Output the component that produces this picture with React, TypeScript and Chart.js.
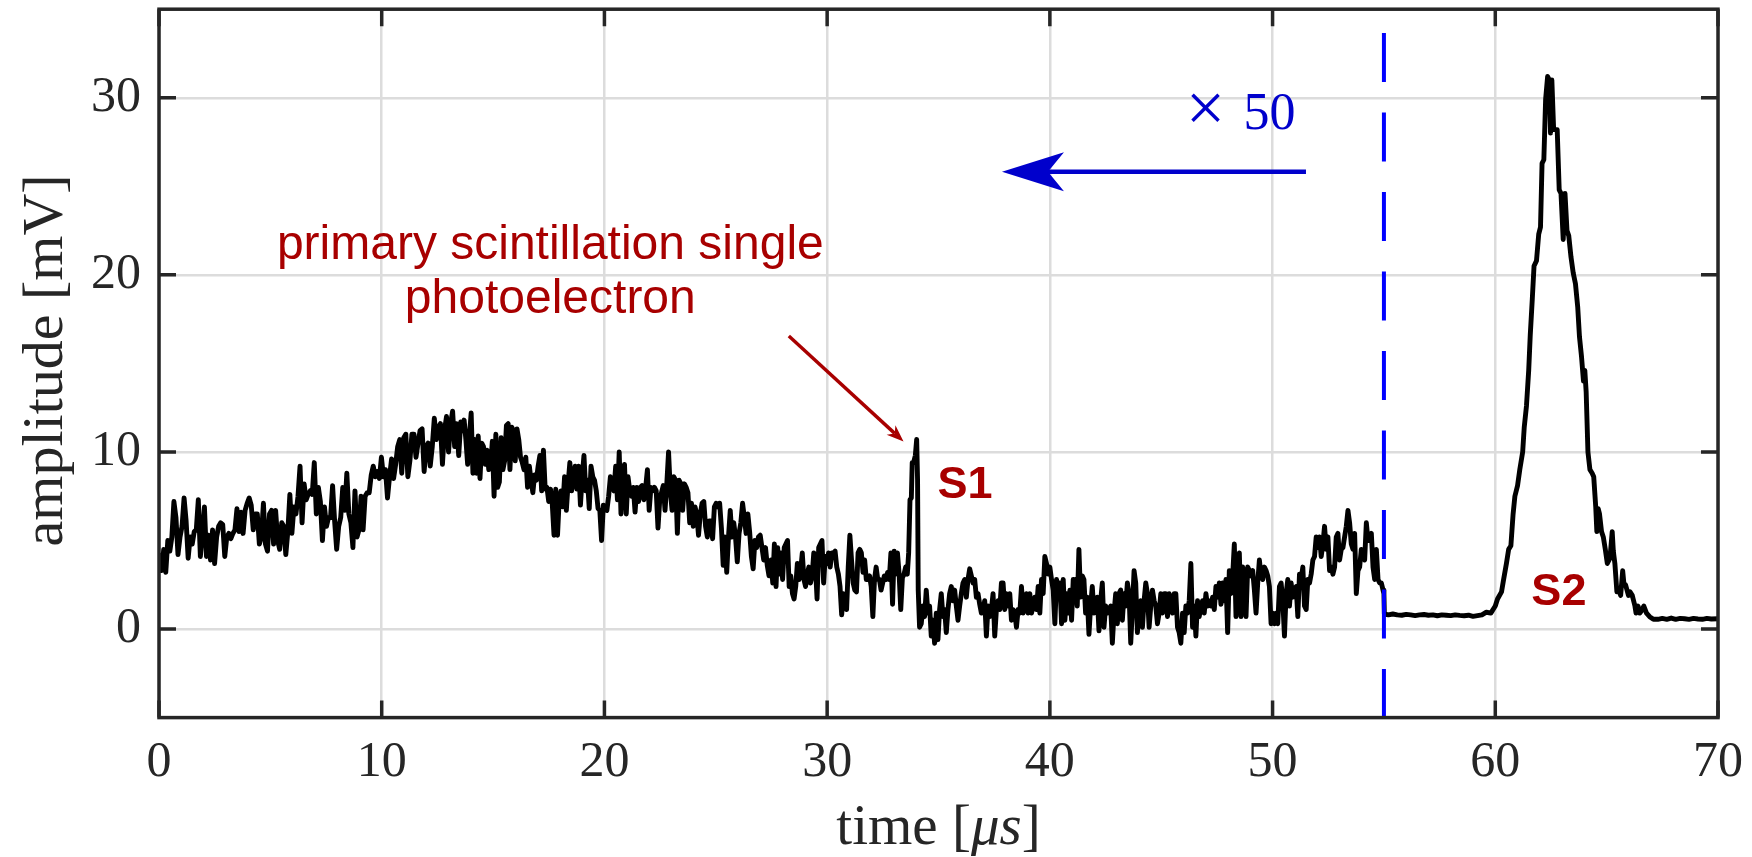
import React, { useEffect, useRef } from "react";
import { Chart, registerables } from "chart.js";

Chart.register(...registerables);

// ---------- axis ticks ----------
const X_TICKS = [0, 10, 20, 30, 40, 50, 60, 70];
const Y_TICKS = [0, 10, 20, 30];

// ---------- waveform (µs, mV) ----------
// Noisy part, sampled on an even grid inside each [start, end] range
const SEG_A_RANGE = [0.03, 13.64];
const SEG_A = [
  4.3, 3.3, 4.5, 3.2, 5.0, 4.4, 5.2, 7.2, 6.3, 4.2,
  5.2, 5.8, 7.4, 6.1, 4.0, 5.2, 4.8, 5.5, 5.6, 7.3,
  4.1, 5.4, 6.9, 4.1, 5.3, 3.9, 5.6, 3.7, 5.2, 5.8,
  6.0, 5.9, 4.1, 5.2, 5.4, 5.1, 5.4, 5.6, 6.8, 5.5,
  6.6, 5.4, 6.7, 7.1, 7.4, 7.0, 5.6, 6.5, 6.5, 4.8,
  5.2, 7.1, 4.8, 4.4, 6.5, 6.7, 4.8, 6.7, 5.0, 4.5,
  6.0, 5.8, 4.2, 5.5, 7.6, 5.4, 6.9, 6.5, 7.5, 9.2,
  6.0, 8.2, 7.3, 7.6, 7.8, 7.6, 9.4, 6.5, 8.0, 7.2,
  5.0, 6.9, 5.8, 6.3, 6.3, 8.1, 6.1, 4.5, 5.8, 6.3,
  8.0, 6.7, 8.8, 6.5, 6.0, 4.6, 7.8, 5.2, 5.6, 7.5,
  5.6, 7.5, 7.7, 7.7, 8.7, 9.2, 8.6, 8.9, 8.5, 9.7,
  8.6, 9.0, 7.4, 8.6, 9.6, 8.5, 9.3, 10.3, 10.7, 8.8,
  10.8, 11.0, 8.6, 9.5, 11.0, 11.0, 9.7, 10.5, 11.2, 11.3,
  8.9, 10.3, 10.5, 9.2, 10.3, 11.9, 10.7, 11.4, 11.6, 9.3,
  11.2, 12.0, 10.0, 11.6, 12.3, 10.3, 11.6, 9.8, 11.7, 11.2,
];

const SEG_B_RANGE = [13.7, 27.39];
const SEG_B = [
  11.8, 10.7, 9.3, 10.9, 12.2, 8.8, 10.7, 8.8, 10.9, 8.5,
  10.5, 10.3, 9.3, 10.1, 9.0, 9.2, 10.6, 7.5, 11.0, 8.0,
  8.3, 10.8, 9.0, 9.5, 11.5, 11.6, 9.0, 11.4, 11.2, 9.5,
  11.3, 10.7, 9.7, 9.4, 9.0, 9.7, 8.0, 9.2, 8.4, 7.7,
  8.7, 8.4, 9.2, 9.8, 7.8, 10.1, 7.9, 8.0, 7.2, 7.9,
  7.1, 5.3, 7.9, 5.3, 7.4, 7.8, 6.9, 8.6, 6.7, 8.2,
  9.4, 7.8, 8.6, 9.2, 7.9, 9.2, 7.0, 8.6, 9.8, 7.8,
  8.4, 6.8, 9.2, 8.6, 8.4, 7.8, 6.8, 6.7, 5.0, 7.0,
  6.8, 6.7, 7.5, 8.6, 8.4, 7.8, 9.2, 7.3, 10.0, 6.5,
  8.4, 9.3, 6.5, 8.6, 7.8, 7.5, 8.0, 6.6, 8.0, 7.2,
  8.0, 8.1, 7.3, 8.0, 9.0, 6.7, 8.0, 7.8, 8.0, 7.8,
  5.7, 7.3, 7.7, 8.1, 6.7, 8.2, 10.0, 7.8, 6.7, 8.6,
  8.4, 5.4, 8.4, 8.2, 6.7, 8.2, 8.0, 7.7, 6.0, 7.1,
  5.8, 6.9, 6.5, 5.3, 6.5, 7.1, 7.2, 5.8, 5.2, 6.1,
  6.1, 5.1, 6.9, 7.1, 6.9, 7.1, 5.7, 3.6, 5.2, 3.2,
  5.2, 6.7, 5.2, 6.0, 5.2, 3.8, 5.4, 6.0, 7.1, 6.3,
  5.4, 6.5, 5.5, 4.1, 3.4, 5.0, 4.6, 5.2, 5.3, 4.6,
  3.9, 4.6, 3.6, 3.0,
];

const SEG_C1_RANGE = [27.41, 33.6];
const SEG_C1 = [
  3.5, 3.9, 2.6, 4.8, 2.4, 4.6, 3.1, 4.3, 2.8, 4.6,
  4.8, 5.0, 2.4, 3.0, 2.0, 1.7, 2.4, 3.7, 2.8, 3.3,
  4.3, 2.8, 2.4, 3.1, 3.5, 2.6, 3.0, 4.3, 3.6, 1.7,
  4.6, 4.8, 5.0, 2.6, 4.1, 3.7, 4.3, 3.5, 4.3, 4.3,
  4.4, 3.5, 3.1, 2.4, 0.8, 2.0, 1.8, 1.1, 3.5, 5.3,
  3.9, 2.6, 2.2, 2.1, 4.3, 4.5, 4.3, 3.2, 3.9, 2.8,
  2.8, 3.0, 2.4, 0.7, 2.8, 3.5, 2.8, 2.8, 2.2, 2.6,
  3.0, 2.8, 3.2, 2.8, 4.3, 1.4, 4.4, 3.1, 4.3, 3.1,
  1.1, 2.9, 3.1, 3.5, 3.1,
];

// S1 pulse
const S1_TIME = [33.66, 33.72, 33.78, 33.82, 33.88, 33.96, 34.02, 34.06, 34.09];
const S1_AMP = [4.3, 7.3, 7.4, 9.4, 9.4, 9.8, 10.7, 8.4, 2.2];

const SEG_C2_RANGE = [34.15, 41.05];
const SEG_C2 = [
  0.1, 0.3, 1.3, 0.7, 2.2, 0.9, 1.3, -0.4, 0.5, -0.8,
  0.9, -0.6, 1.1, 2.0, 0.7, 1.1, -0.2, 1.1, 2.0, 2.4,
  1.6, 2.2, 1.3, 0.5, 1.3, 2.0, 2.6, 2.8, 1.8, 2.8,
  3.4, 3.0, 2.6, 2.8, 1.8, 2.0, 1.4, 0.9, 1.1, 1.6,
  -0.4, 1.3, 0.7, 1.1, 2.0, -0.4, 1.1, 1.6, 1.1, 2.6,
  2.6, 1.1, 2.0, 1.3, 2.0, 0.5, 1.1, 0.9, 0.1, 1.1,
  0.9, 2.4, 0.9, 1.3, 2.0, 0.9, 2.0, 0.9, 1.3, 1.8,
  1.1, 2.4, 0.9, 2.8, 2.0, 4.1, 3.7, 3.1, 3.5, 2.8,
  2.2, 0.3, 2.8, 2.0, 2.6, 0.3, 2.8, 0.5, 2.0, 0.9,
  2.2, 0.5, 2.8,
];

const SEG_D_RANGE = [41.08, 54.96];
const SEG_D = [
  2.0, 2.8, 1.3, 4.5, 1.8, 3.0, 2.8, 0.9, 1.8, -0.3,
  1.3, 2.4, 0.9, 1.3, 1.8, -0.1, 1.6, 2.6, 0.1, 1.3,
  0.9, 1.1, 1.3, -0.8, 0.9, 2.0, 0.3, 2.0, 2.2, 0.5,
  2.0, 1.3, 2.6, 2.0, -0.8, 1.1, 3.3, 2.6, -0.2, 1.3,
  1.6, 0.1, 1.6, 2.6, 2.0, 0.1, 1.3, 2.2, 1.6, 1.3,
  0.3, 0.9, 2.0, 0.9, 2.0, 2.0, 0.7, 2.0, 1.3, 0.9,
  2.0, 2.0, 0.1, -0.2, -0.8, 0.9, -0.2, 1.3, 0.9, 1.6,
  3.7, 0.1, 1.3, -0.4, 1.6, 0.7, 1.3, 1.6, 0.9, 2.0,
  1.3, 1.6, 1.3, 1.8, 1.1, 2.4, 1.8, 2.6, 1.4, 2.6,
  1.6, 2.8, -0.2, 3.3, 2.0, 3.0, 4.8, 0.7, 3.3, 4.3,
  0.7, 3.5, 2.8, 0.7, 3.5, 3.3, 3.0, 3.3, 2.2, 0.9,
  2.6, 3.9, 3.0, 2.8, 3.5, 3.3, 3.0, 2.4, 0.3, 0.9,
  0.3, 0.9, 0.3, 2.4, 2.6, 1.6, -0.4, 2.0, 2.8, 1.3,
  2.6, 1.8, 2.2, 2.4, 0.7, 3.1, 2.8, 3.5, 1.3, 1.1,
  2.8, 2.6, 3.1, 3.9, 4.1, 5.2, 4.6, 5.2, 4.1, 4.8,
  5.8, 4.5, 5.2, 3.3, 3.5, 3.1, 3.5, 5.2, 5.4, 3.9,
  4.5, 4.6, 5.2, 5.8, 6.7, 6.0, 4.8, 4.5, 5.4, 2.0,
  3.3, 3.5, 4.5, 4.1, 3.9, 6.0, 5.0, 5.2, 5.4, 3.5,
  2.8, 4.5, 2.8, 2.6, 2.6, 2.2,
];

// S2 part (scaled ×1/50 before 55 µs)
const S2_TIME = [
  55.0, 55.02, 55.2, 55.4, 55.6, 55.8, 56.0, 56.2, 56.4, 56.6, 56.8, 57.0, 57.2, 57.4, 57.6,
  57.8, 58.0, 58.2, 58.4, 58.6, 58.8, 59.0, 59.2, 59.4, 59.6, 59.8,
  60.0, 60.1, 60.28, 60.36, 60.5, 60.6, 60.7, 60.8, 60.88, 61.0, 61.1, 61.23, 61.3, 61.4,
  61.5, 61.57, 61.66, 61.74, 61.85, 61.95, 62.03, 62.1, 62.18, 62.26, 62.35, 62.43, 62.48,
  62.54, 62.62, 62.78, 62.87, 62.95, 63.05, 63.13, 63.22, 63.3, 63.4, 63.5, 63.6, 63.7,
  63.78, 63.87, 63.96, 64.02, 64.08, 64.16, 64.25, 64.35, 64.42, 64.51, 64.56, 64.62, 64.68,
  64.77, 64.85, 64.94, 65.03, 65.15, 65.25, 65.3, 65.37, 65.46, 65.55, 65.63, 65.72, 65.78,
  65.85, 65.98, 66.05, 66.15, 66.27, 66.32, 66.41, 66.49, 66.6, 66.67, 66.79, 66.93, 67.1,
  67.3, 67.5, 67.7, 67.9, 68.1, 68.3, 68.5, 68.7, 68.9, 69.1, 69.3, 69.5, 69.7, 70.0,
];
const S2_AMP = [
  2.0, 0.85, 0.8, 0.85, 0.8, 0.78, 0.83, 0.8, 0.76, 0.8, 0.82, 0.78, 0.8, 0.75, 0.8,
  0.78, 0.76, 0.8, 0.77, 0.75, 0.78, 0.72, 0.76, 0.8, 0.95, 0.9,
  1.3, 1.7, 2.1, 2.7, 3.7, 4.5, 4.7, 6.5, 7.5, 8.1, 9.0, 10.0, 11.4, 12.6,
  14.6, 16.6, 18.6, 20.5, 20.8, 22.3, 22.7, 26.3, 26.5, 29.9, 31.2, 31.0, 28.0,
  31.0, 28.2, 28.2, 24.8, 24.6, 22.0, 24.6, 22.5, 22.2, 21.0, 20.1, 19.5, 18.2,
  16.5, 15.4, 14.0, 14.6, 13.4, 10.0, 9.0, 8.8, 8.6, 6.9, 5.5, 6.8, 6.5,
  5.5, 5.2, 4.5, 3.7, 4.0, 5.5, 4.4, 3.7, 2.1, 2.2, 1.9, 3.3, 2.5,
  2.5, 1.9, 2.1, 1.9, 1.3, 0.9, 1.3, 0.9, 1.1, 1.3, 0.9, 0.7, 0.55,
  0.55, 0.6, 0.55, 0.62, 0.55, 0.6, 0.58, 0.55, 0.6, 0.57, 0.55, 0.6, 0.57, 0.58,
];

// marker line at the gain switch
const SWITCH_TIME = 55;
const SWITCH_TOP = 33.65;

// ---------- styling ----------
const AXIS_COLOR = "#262626";
const GRID_COLOR = "#dcdcdc";
const RED = "#a80000";
const BLUE_DARK = "#0000cc";
const SERIF = '"Liberation Serif", "Times New Roman", serif';
const SANS = '"Liberation Sans", Arial, sans-serif';

function evenSegment(range: number[], vals: number[]) {
  const [a, b] = range;
  const n = vals.length;
  return vals.map((v, i) => ({ x: a + ((b - a) * i) / (n - 1), y: v }));
}
function pairSegment(ts: number[], vs: number[]) {
  return ts.map((t, i) => ({ x: t, y: vs[i] }));
}

function drawArrow(
  ctx: CanvasRenderingContext2D,
  x0: number, y0: number, x1: number, y1: number,
  color: string, width: number, headLen: number, headHalf: number, notch: number
) {
  const ang = Math.atan2(y1 - y0, x1 - x0);
  const ux = Math.cos(ang), uy = Math.sin(ang);
  const px = -uy, py = ux;
  const bx = x1 - ux * headLen, by = y1 - uy * headLen;
  const nx = x1 - ux * notch, ny = y1 - uy * notch;
  ctx.strokeStyle = color;
  ctx.lineWidth = width;
  ctx.lineCap = "butt";
  ctx.beginPath();
  ctx.moveTo(x0, y0);
  ctx.lineTo(nx, ny);
  ctx.stroke();
  ctx.fillStyle = color;
  ctx.beginPath();
  ctx.moveTo(x1, y1);
  ctx.lineTo(bx + px * headHalf, by + py * headHalf);
  ctx.lineTo(nx, ny);
  ctx.lineTo(bx - px * headHalf, by - py * headHalf);
  ctx.closePath();
  ctx.fill();
}

const overlayPlugin = {
  id: "overlay",
  afterDraw(chart: any) {
    const { ctx, chartArea: a, scales } = chart;
    const X = (t: number) => scales.x.getPixelForValue(t);
    const Y = (v: number) => scales.y.getPixelForValue(v);
    ctx.save();

    // axes box + inward ticks
    ctx.strokeStyle = AXIS_COLOR;
    ctx.lineWidth = 3.5;
    ctx.lineCap = "butt";
    ctx.strokeRect(a.left, a.top, a.right - a.left, a.bottom - a.top);
    const TL = 17;
    ctx.beginPath();
    for (const t of X_TICKS) {
      const x = X(t);
      ctx.moveTo(x, a.bottom); ctx.lineTo(x, a.bottom - TL);
      ctx.moveTo(x, a.top); ctx.lineTo(x, a.top + TL);
    }
    for (const v of Y_TICKS) {
      const y = Y(v);
      ctx.moveTo(a.left, y); ctx.lineTo(a.left + TL, y);
      ctx.moveTo(a.right, y); ctx.lineTo(a.right - TL, y);
    }
    ctx.stroke();

    // red annotation
    ctx.fillStyle = RED;
    ctx.font = `48px ${SANS}`;
    ctx.textAlign = "center";
    ctx.textBaseline = "alphabetic";
    ctx.fillText("primary scintillation single", X(17.57), Y(20.9));
    ctx.fillText("photoelectron", X(17.57), Y(17.85));
    drawArrow(ctx, X(28.28), Y(16.55), X(33.43), Y(10.59), RED, 3.4, 17, 6.5, 12);

    ctx.font = `bold 45px ${SANS}`;
    ctx.textAlign = "left";
    ctx.fillStyle = RED;
    ctx.fillText("S1", X(34.96), Y(7.41));
    ctx.fillText("S2", X(61.62), Y(1.35));

    // blue gain annotation
    ctx.fillStyle = BLUE_DARK;
    ctx.font = `70px ${SERIF}`;
    ctx.textAlign = "center";
    ctx.textBaseline = "middle";
    ctx.fillText("\u00d7", X(46.99), Y(29.15));
    ctx.font = `52px ${SERIF}`;
    ctx.textAlign = "left";
    ctx.textBaseline = "alphabetic";
    ctx.fillText("50", X(48.7), Y(28.22));
    drawArrow(ctx, X(51.5), Y(25.82), X(37.85), Y(25.82), BLUE_DARK, 4.5, 62, 19.5, 46);

    // axis titles
    ctx.fillStyle = AXIS_COLOR;
    ctx.textBaseline = "alphabetic";
    const parts = [
      { t: "time [", f: `57px ${SERIF}` },
      { t: "\u03bcs", f: `italic 57px ${SERIF}` },
      { t: "]", f: `57px ${SERIF}` },
    ];
    let total = 0;
    for (const p of parts) { ctx.font = p.f; total += ctx.measureText(p.t).width; }
    let cx = (a.left + a.right) / 2 - total / 2;
    ctx.textAlign = "left";
    for (const p of parts) {
      ctx.font = p.f;
      ctx.fillText(p.t, cx, a.bottom + 126.5);
      cx += ctx.measureText(p.t).width;
    }
    ctx.save();
    ctx.translate(62, (a.top + a.bottom) / 2 - 3);
    ctx.rotate(-Math.PI / 2);
    ctx.font = `58px ${SERIF}`;
    ctx.textAlign = "center";
    ctx.fillText("amplitude [mV]", 0, 0);
    ctx.restore();

    ctx.restore();
  },
};

export default function App() {
  const ref = useRef<HTMLCanvasElement | null>(null);

  useEffect(() => {
    const canvas = ref.current;
    if (!canvas) return;
    const wave = [
      ...evenSegment(SEG_A_RANGE, SEG_A),
      ...evenSegment(SEG_B_RANGE, SEG_B),
      ...evenSegment(SEG_C1_RANGE, SEG_C1),
      ...pairSegment(S1_TIME, S1_AMP),
      ...evenSegment(SEG_C2_RANGE, SEG_C2),
      ...evenSegment(SEG_D_RANGE, SEG_D),
      ...pairSegment(S2_TIME, S2_AMP),
    ];
    const tickFont = { family: SERIF, size: 50 };
    const chart = new Chart(canvas, {
      type: "line",
      data: {
        datasets: [
          {
            data: wave,
            borderColor: "#000000",
            borderWidth: 4.9,
            pointRadius: 0,
            borderJoinStyle: "round",
            tension: 0,
            order: 1,
          },
          {
            data: [
              { x: SWITCH_TIME, y: SWITCH_TOP },
              { x: SWITCH_TIME, y: -5 },
            ],
            borderColor: "#0000ff",
            borderWidth: 4,
            borderDash: [49, 30.5],
            pointRadius: 0,
            order: 0,
          },
        ],
      },
      options: {
        animation: false,
        responsive: false,
        devicePixelRatio: 1,
        events: [],
        layout: { padding: { top: 9.2, right: 34, left: 0, bottom: 0 } },
        plugins: { legend: { display: false }, tooltip: { enabled: false } },
        scales: {
          x: {
            type: "linear",
            min: 0,
            max: 70,
            afterBuildTicks: (s: any) => {
              s.ticks = X_TICKS.map((v) => ({ value: v }));
            },
            afterFit: (s: any) => {
              s.height = 139.4;
              s.paddingLeft = 0;
              s.paddingRight = 0;
            },
            grid: { color: GRID_COLOR, lineWidth: 2.5, drawTicks: false },
            border: { display: false },
            ticks: { font: tickFont, color: AXIS_COLOR, padding: 15, maxRotation: 0, autoSkip: false },
          },
          y: {
            type: "linear",
            min: -5,
            max: 35,
            afterBuildTicks: (s: any) => {
              s.ticks = Y_TICKS.map((v) => ({ value: v }));
            },
            afterFit: (s: any) => {
              s.width = 159;
              s.paddingTop = 0;
              s.paddingBottom = 0;
            },
            grid: { color: GRID_COLOR, lineWidth: 2.5, drawTicks: false },
            border: { display: false },
            ticks: { font: tickFont, color: AXIS_COLOR, padding: 18, autoSkip: false },
          },
        },
      },
      plugins: [overlayPlugin],
    } as any);
    return () => chart.destroy();
  }, []);

  return (
    <div style={{ position: "fixed", left: 0, top: 0, width: 1752, height: 857, background: "#fff" }}>
      <canvas ref={ref} width={1752} height={857} style={{ display: "block" }} />
    </div>
  );
}
